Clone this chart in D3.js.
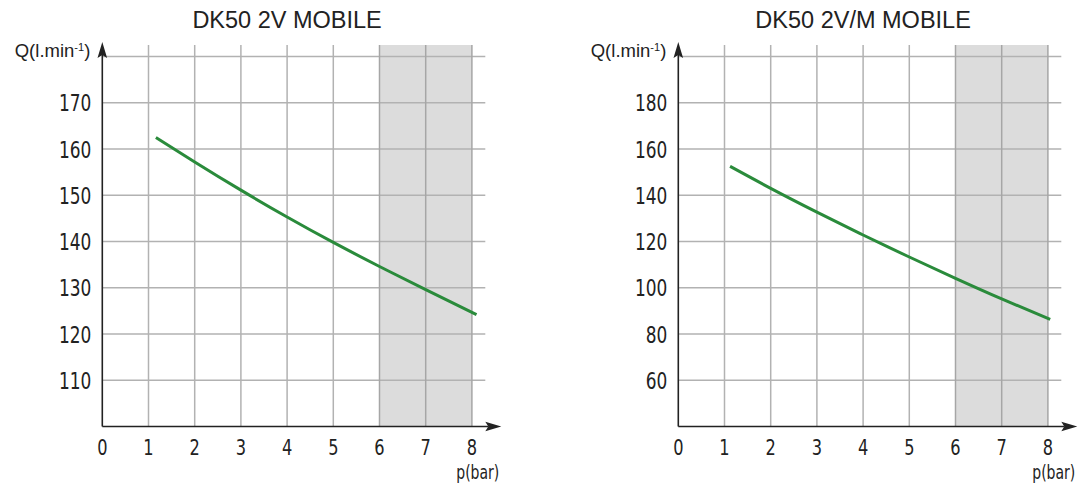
<!DOCTYPE html>
<html>
<head>
<meta charset="utf-8">
<script src="https://cdn.jsdelivr.net/npm/d3@7"></script>
<style>
  body { margin: 0; background: #fff; }
  svg text { fill: #222; }
  .tick-label { font-family: "DejaVu Sans Condensed", "DejaVu Sans", sans-serif; }
  .title, .qlabel { font-family: "Liberation Sans", Arial, sans-serif; }
</style>
</head>
<body>
<svg id="chart" width="1078" height="486"></svg>
<script>
// x axis is shared: pressure in bar
var pressureTicks = [0, 1, 2, 3, 4, 5, 6, 7, 8];
var shadeFrom = 6, shadeTo = 8;

// left panel
var leftTitle = "DK50 2V MOBILE";
var leftYDomain = [100, 180];
var leftYGrid = [110, 120, 130, 140, 150, 160, 170, 180];
var leftYLabels = [110, 120, 130, 140, 150, 160, 170];
var leftP = [1.16, 2, 3, 4, 5, 6, 7, 8.1];
var leftQ = [162.5, 157.2, 151.1, 145.3, 139.8, 134.6, 129.6, 124.2];

// right panel
var rightTitle = "DK50 2V/M MOBILE";
var rightYDomain = [40, 200];
var rightYGrid = [60, 80, 100, 120, 140, 160, 180, 200];
var rightYLabels = [60, 80, 100, 120, 140, 160, 180];
var rightP = [1.12, 2, 3, 4, 5, 6, 7, 8.05];
var rightQ = [152.5, 143.0, 132.7, 122.8, 113.3, 104.1, 95.2, 86.3];

var svg = d3.select("#chart");

// narrow digits: condensed face squeezed a bit more
function narrowText(sel, x, y, anchor, size, txt) {
  sel.append("text").attr("class", "tick-label")
    .attr("transform", "translate(" + x + "," + y + ") scale(0.82,1)")
    .attr("text-anchor", anchor).attr("font-size", size)
    .text(txt);
}

function drawPanel(left, title, yDomain, yGrid, yLabels, ps, qs) {
  var unit = 46.2;
  var axisY = 426.5, topY = 56.5, gridTop = 45;
  var x = d3.scaleLinear().domain([0, 8]).range([left, left + 8 * unit]);
  var y = d3.scaleLinear().domain(yDomain).range([axisY, topY]);
  var g = svg.append("g");

  // grey band 6..8 bar
  g.append("rect")
    .attr("x", x(shadeFrom)).attr("y", gridTop)
    .attr("width", x(shadeTo) - x(shadeFrom)).attr("height", axisY - gridTop)
    .attr("fill", "#dcdcdc");

  // grid
  g.selectAll(".hgrid").data(yGrid).enter().append("line")
    .attr("x1", x(0)).attr("x2", x(8.29))
    .attr("y1", d => y(d)).attr("y2", d => y(d))
    .attr("stroke", "#b2b2b2").attr("stroke-width", 1.5);
  g.selectAll(".vgrid").data(pressureTicks.slice(1)).enter().append("line")
    .attr("x1", d => x(d)).attr("x2", d => x(d))
    .attr("y1", gridTop).attr("y2", axisY)
    .attr("stroke", d => d >= shadeFrom ? "#a6a6a6" : "#b2b2b2").attr("stroke-width", 1.5);

  // axes with arrows
  g.append("line").attr("x1", x(0)).attr("x2", x(0) + 386)
    .attr("y1", axisY).attr("y2", axisY).attr("stroke", "#222").attr("stroke-width", 1.6);
  g.append("path")
    .attr("d", "M" + (x(0) + 383) + "," + (axisY - 4.8) + " L" + (x(0) + 399) + "," + axisY +
      " L" + (x(0) + 383) + "," + (axisY + 4.8) + " L" + (x(0) + 386) + "," + axisY + "Z")
    .attr("fill", "#222");
  g.append("line").attr("x1", x(0)).attr("x2", x(0))
    .attr("y1", axisY).attr("y2", 54).attr("stroke", "#222").attr("stroke-width", 1.6);
  g.append("path")
    .attr("d", "M" + (x(0) - 4.8) + ",58 L" + x(0) + ",42 L" + (x(0) + 4.8) + ",58 L" + x(0) + ",55Z")
    .attr("fill", "#222");

  // curve
  var line = d3.line().x(d => x(d[0])).y(d => y(d[1])).curve(d3.curveNatural);
  g.append("path")
    .datum(ps.map((p, i) => [p, qs[i]]))
    .attr("d", line)
    .attr("fill", "none").attr("stroke", "#2a8b3b").attr("stroke-width", 3);

  // tick labels
  yLabels.forEach(d => narrowText(g, x(0) - 11, y(d) + 8.5, "end", 23, d));
  pressureTicks.forEach(d => narrowText(g, x(d), 455, "middle", 22, d));
  narrowText(g, x(0) + 397, 479, "end", 19, "p(bar)");

  var q = g.append("text").attr("class", "qlabel")
    .attr("x", x(0) - 12).attr("y", 56.5)
    .attr("text-anchor", "end").attr("font-size", 18.5);
  q.append("tspan").text("Q(l.min");
  q.append("tspan").attr("font-size", 11).attr("dy", -6).text("-1");
  q.append("tspan").attr("dy", 6).text(")");

  g.append("text").attr("class", "title")
    .attr("x", x(4)).attr("y", 28)
    .attr("text-anchor", "middle").attr("font-size", 23.5)
    .text(title);
}

drawPanel(102.3, leftTitle, leftYDomain, leftYGrid, leftYLabels, leftP, leftQ);
drawPanel(678.3, rightTitle, rightYDomain, rightYGrid, rightYLabels, rightP, rightQ);
</script>
</body>
</html>
